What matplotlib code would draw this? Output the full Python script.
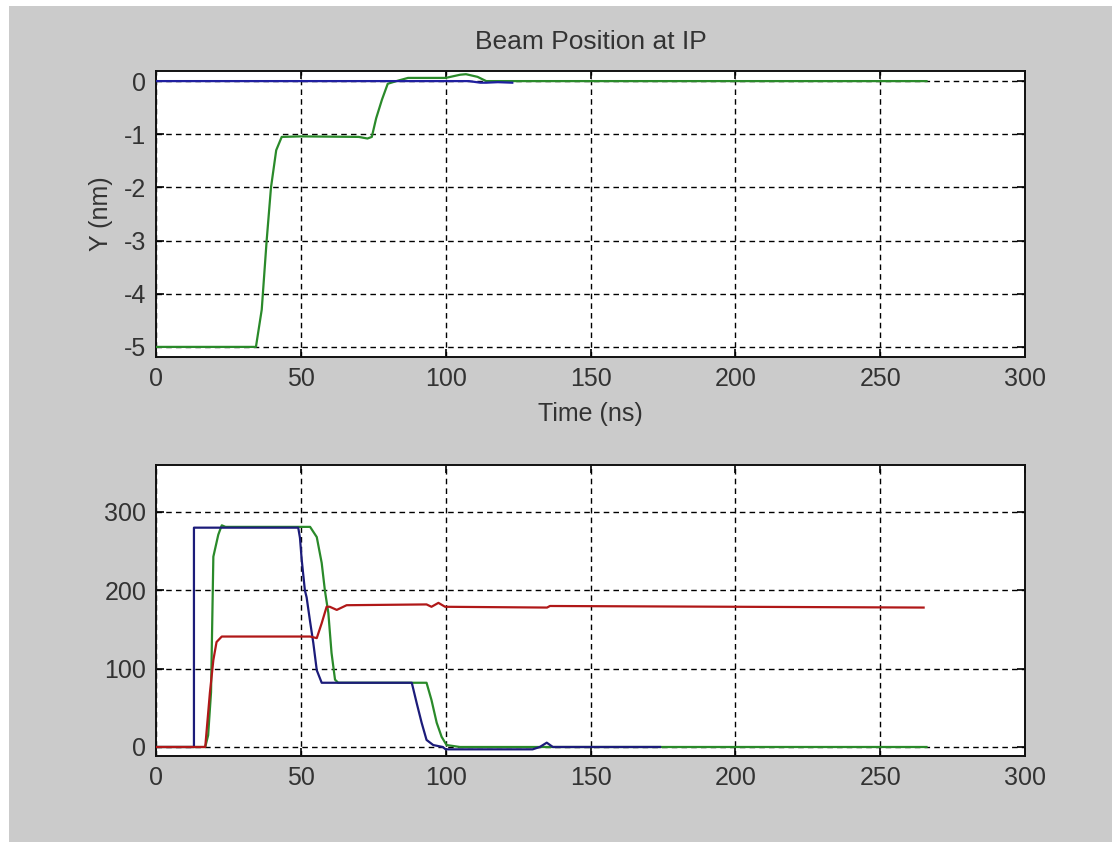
import matplotlib
matplotlib.use("Agg")
import matplotlib.pyplot as plt
from matplotlib.patches import Rectangle

plt.rcParams['font.family'] = ['Liberation Sans', 'DejaVu Sans']
plt.rcParams['axes.unicode_minus'] = False

# upper panel: beam position at IP (Y in nm vs time in ns)
top_blue_t = [0, 85, 100, 108, 112, 114, 118, 123]
top_blue_y = [0, 0, 0, 0, -0.03, -0.03, -0.02, -0.03]

top_green_t = [0, 34.5, 36.5, 38.2, 39.7, 41.5, 43.4, 50, 70, 73, 74.5, 76, 78,
               80, 83, 87, 100, 105, 107, 111, 114, 123, 266]
top_green_y = [-5, -5, -4.3, -3, -2, -1.3, -1.05, -1.04, -1.05, -1.08, -1.05,
               -0.7, -0.35, -0.05, 0, 0.06, 0.06, 0.12, 0.13, 0.08, 0.0, 0, 0]

# lower panel
bot_blue_t = [0, 13.1, 13.1, 49.1, 49.7, 50.3, 51.4, 52, 53.2, 54.3, 55.5, 57.2,
              88.3, 90, 91.7, 93.4, 95.7, 99, 100, 130, 132.5, 134.9, 137, 174]
bot_blue_y = [0, 0, 280, 280, 267, 239, 200, 191, 160, 133, 98, 82,
              82, 56, 31, 9, 2.5, 0, -3, -3, 0, 5.5, 0, 0]

bot_green_t = [0, 17, 18, 19, 19.8, 21.5, 22.7, 24, 53.2, 55.5, 57.2, 58.3, 59.5,
               60.6, 61.8, 62.9, 93.4, 95.1, 96.9, 98.6, 100.3, 104.9, 266]
bot_green_y = [0, 0, 15, 70, 243, 271, 283, 281, 281, 268, 235, 200, 171,
               120, 86, 82, 82, 60, 31, 13, 2.5, 0, 0]

bot_red_t = [0, 17, 18.6, 19.8, 20.9, 22.7, 53.2, 55.5, 57.2, 58.9, 60, 62.4,
             65.8, 93.4, 95.1, 97.5, 99.8, 135, 136, 265]
bot_red_y = [0, 0, 69, 111, 134, 141, 141, 139, 158, 179, 179, 175,
             181, 182, 179, 184, 179, 178, 180, 178]

x_ticks = [0, 50, 100, 150, 200, 250, 300]
top_y_ticks = [-5, -4, -3, -2, -1, 0]
bot_y_ticks = [0, 100, 200, 300]

W, H = 1112, 842
fig = plt.figure(figsize=(W / 100, H / 100), dpi=100, facecolor='white')
fig.patches.append(Rectangle((9 / W, 0), 1, 1 - 6 / H, transform=fig.transFigure,
                             facecolor='#cbcbcb', edgecolor='none', zorder=-10))

text_col = '#333333'
fs = 18


def style_axes(ax, yticks, ylim):
    ax.set_facecolor('white')
    ax.set_xlim(0, 300)
    ax.set_ylim(*ylim)
    ax.set_xticks(x_ticks)
    ax.set_yticks(yticks)
    ax.grid(True, color='black', linestyle=(0, (4, 3)), linewidth=1.0)
    ax.set_axisbelow(True)
    ax.tick_params(direction='in', length=6, width=1.2, top=True, right=True,
                   labelsize=fs, labelcolor=text_col, pad=7)
    for sp in ax.spines.values():
        sp.set_linewidth(1.4)
        sp.set_color('#111111')


ax1 = fig.add_axes([156 / W, 1 - 357 / H, 869 / W, 286 / H])
style_axes(ax1, top_y_ticks, (-5.19, 0.19))
ax1.plot(top_green_t, top_green_y, color='#2a8a2a', lw=1.6, zorder=3)
ax1.plot(top_blue_t, top_blue_y, color='#1f1fa0', lw=1.6, zorder=4)
ax1.set_title('Beam Position at IP', fontsize=fs + 1, color=text_col, pad=16)
ax1.set_xlabel('Time (ns)', fontsize=fs, color=text_col, labelpad=8)
ax1.set_ylabel('Y (nm)', fontsize=fs, color=text_col, labelpad=8)

ax2 = fig.add_axes([156 / W, 1 - 756 / H, 869 / W, 291 / H])
style_axes(ax2, bot_y_ticks, (-11.5, 360))
ax2.plot(bot_green_t, bot_green_y, color='#2a8a2a', lw=1.6, zorder=3)
ax2.plot(bot_blue_t, bot_blue_y, color='#1c1c7a', lw=1.6, zorder=4)
ax2.plot(bot_red_t, bot_red_y, color='#b01818', lw=1.6, zorder=5)

fig.savefig('out.png', dpi=100, facecolor=fig.get_facecolor())
